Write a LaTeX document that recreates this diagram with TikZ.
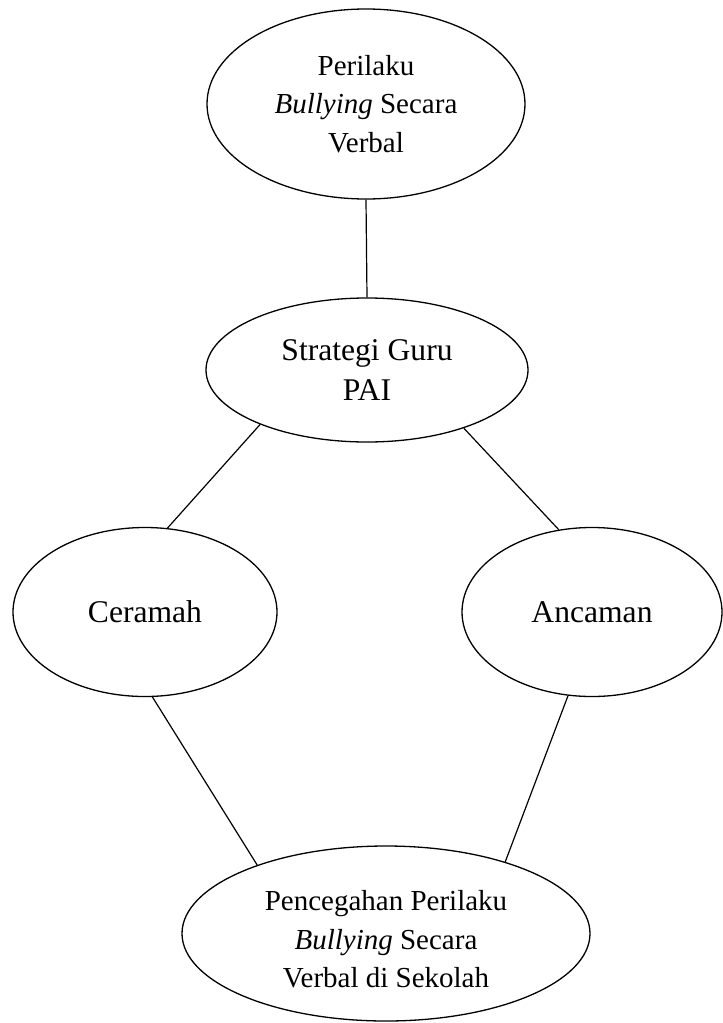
\documentclass[tikz,border=0pt]{standalone}
\usepackage{fontspec}
\setmainfont{Liberation Serif}
\usepackage{tikz}
\usetikzlibrary{shapes.geometric}

\begin{document}
\begin{tikzpicture}[x=1pt, y=-1pt,
  oval/.style={draw, ellipse, line width=1.3pt, inner sep=0pt, align=center},
  kecil/.style={font=\fontsize{29}{38.5}\selectfont},
  besar/.style={font=\fontsize{31.6}{39.3}\selectfont},
  garis/.style={line width=1.2pt}]
\useasboundingbox (0,0) rectangle (723,1023);

% Ellipses
\node[oval, kecil, minimum width=318pt, minimum height=190pt] (perilaku) at (366,104) {Perilaku\\\textit{Bullying} Secara\\Verbal};
\node[oval, besar, minimum width=322pt, minimum height=144pt] (strategi) at (367,370) {Strategi Guru\\PAI};
\node[oval, besar, minimum width=264pt, minimum height=169pt] (ceramah) at (145,612) {Ceramah};
\node[oval, besar, minimum width=260pt, minimum height=169pt] (ancaman) at (592,612) {Ancaman};
\node[oval, kecil, text height=109pt, minimum width=408pt, minimum height=175pt] (cegah) at (386,933.5) {Pencegahan Perilaku\\\textit{Bullying} Secara\\Verbal di Sekolah};

% Connectors
\draw[garis] (perilaku.south) -- (strategi.north);
\draw[garis] (strategi.207.4) -- (ceramah.75.3);
\draw[garis] (strategi.329) -- (ancaman.112);
\draw[garis] (ceramah.275.4) -- (cegah.152.6);
\draw[garis] (ancaman.254.9) -- (cegah.31.9);

\end{tikzpicture}
\end{document}
